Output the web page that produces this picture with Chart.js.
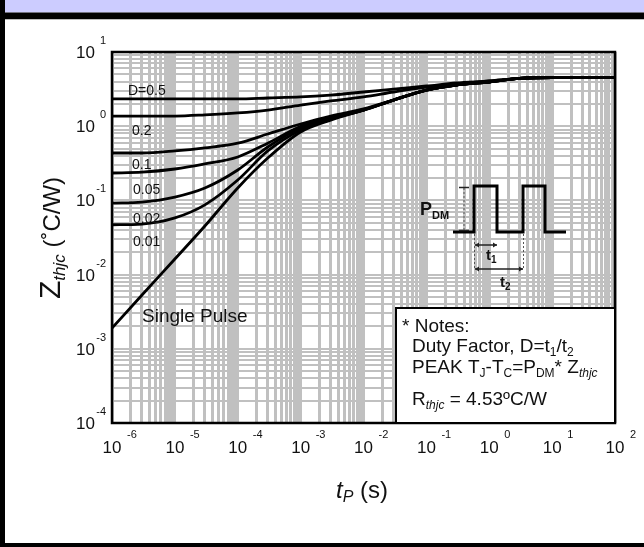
<!DOCTYPE html>
<html><head><meta charset="utf-8">
<script src="https://cdn.jsdelivr.net/npm/chart.js@4.4.0/dist/chart.umd.min.js"></script>
<style>html,body{margin:0;padding:0;background:#fff;overflow:hidden}canvas{display:block}</style>
</head><body>
<canvas id="c" width="644" height="547"></canvas>
<script>
// ---- data ----
const tP = [1e-6,3e-6,1e-5,3e-5,1e-4,3e-4,1e-3,3e-3,1e-2,3e-2,1e-1,3e-1,1,3,10,100];
const zD050 = [2.33,2.33,2.33,2.33,2.33,2.40,2.48,2.63,2.89,3.17,3.48,3.82,4.07,4.40,4.53,4.53];
const zD020 = [1.37,1.37,1.37,1.42,1.51,1.65,1.93,2.19,2.48,2.89,3.37,3.70,4.07,4.40,4.53,4.53];
const zD010 = [0.435,0.435,0.464,0.51,0.59,0.785,1.07,1.37,1.71,2.25,3.07,3.59,3.94,4.40,4.53,4.53];
const zD005 = [0.234,0.24,0.265,0.31,0.385,0.59,1.0,1.33,1.65,2.25,3.07,3.59,3.94,4.40,4.53,4.53];
const zD002 = [0.092,0.095,0.111,0.147,0.257,0.525,0.946,1.29,1.65,2.25,3.07,3.59,3.94,4.40,4.53,4.53];
const zD001 = [0.047,0.048,0.058,0.087,0.188,0.464,0.89,1.25,1.65,2.25,3.07,3.59,3.94,4.40,4.53,4.53];
const zSingle = [0.0019,0.0053,0.0162,0.0452,0.147,0.372,0.836,1.21,1.65,2.25,3.07,3.59,3.94,4.40,4.53,4.53];
const seriesNames = ['D=0.5','0.2','0.1','0.05','0.02','0.01','Single Pulse'];
const xExponents = [-6,-5,-4,-3,-2,-1,0,1,2];
const yExponents = [1,0,-1,-2,-3,-4];

// ---- helpers ----
const FF = "'Liberation Sans', Arial, Helvetica, sans-serif";
const INK = '#111';
function minorTicks(exps){
  const lo = Math.min(...exps), hi = Math.max(...exps), out = [];
  for (let e = lo; e < hi; e++) for (let m = 1; m <= 9; m++) out.push(m * Math.pow(10, e));
  out.push(Math.pow(10, hi));
  return out;
}
const xTickVals = minorTicks(xExponents);
const yTickVals = minorTicks(yExponents);

function font(size, style){ return (style||'') + ' ' + size + 'px ' + FF; }
function runs(ctx, x, y, parts, align){
  let total = 0;
  parts.forEach(p => { ctx.font = font(p[1], p[2]); p.w = ctx.measureText(p[0]).width; total += p.w; });
  let cx = align === 'center' ? x - total/2 : align === 'right' ? x - total : x;
  parts.forEach(p => { ctx.font = font(p[1], p[2]); ctx.fillText(p[0], cx, y + (p[3]||0)); cx += p.w; });
}

const mk = (arr) => tP.map((t,i) => ({x:t, y:arr[i]}));
const allSeries = [zD050, zD020, zD010, zD005, zD002, zD001, zSingle];

const decor = {
  id: 'decor',
  beforeDraw(chart){
    const ctx = chart.ctx, W = chart.width, H = chart.height;
    ctx.save();
    ctx.fillStyle = '#fff'; ctx.fillRect(0,0,W,H);
    ctx.fillStyle = '#ccccff'; ctx.fillRect(0,0,W,12.5);
    ctx.fillStyle = '#000'; ctx.fillRect(0,12.5,W,6.5);
    ctx.fillStyle = '#bbb'; ctx.fillRect(0,19,W,1);
    ctx.fillStyle = '#000'; ctx.fillRect(0,0,5,H);
    ctx.fillRect(0,H-4,W,4);
    ctx.restore();
  },
  afterDatasetsDraw(chart){
    const ctx = chart.ctx, ca = chart.chartArea;
    const xs = chart.scales.x, ys = chart.scales.y;
    ctx.save();
    // plot frame
    ctx.strokeStyle = '#000'; ctx.lineWidth = 2.5;
    ctx.strokeRect(ca.left, ca.top, ca.right - ca.left, ca.bottom - ca.top);

    ctx.fillStyle = INK; ctx.textBaseline = 'alphabetic';
    // x tick labels
    xExponents.forEach(e => {
      const px = xs.getPixelForValue(Math.pow(10,e));
      ctx.font = font(17); ctx.textAlign = 'center';
      ctx.fillText('10', px, 453);
      ctx.font = font(11); ctx.textAlign = 'left';
      ctx.fillText(String(e), px + 15, 438);
    });
    // y tick labels
    yExponents.forEach(e => {
      const py = ys.getPixelForValue(Math.pow(10,e));
      ctx.font = font(17); ctx.textAlign = 'right';
      ctx.fillText('10', 95, py + 6);
      ctx.font = font(11); ctx.textAlign = 'right';
      ctx.fillText(String(e), 106, py - 8);
    });
    ctx.textAlign = 'left';

    // series labels
    const lab = [[128,95],[132,135],[132,169],[133,194],[133,223],[133,246]];
    lab.forEach((p,i) => { ctx.font = font(14); ctx.fillText(seriesNames[i], p[0], p[1]); });
    ctx.font = font(19); ctx.fillText(seriesNames[6], 142, 322);

    // axis titles
    runs(ctx, 362, 498, [['t',24,'italic'],['P',16,'italic',4],[' (s)',24]], 'center');
    ctx.save();
    ctx.translate(60, 238); ctx.rotate(-Math.PI/2);
    runs(ctx, 0, 0, [['Z',30],['thjc',17,'italic',5],[' (\u02DAC/W)',24]], 'center');
    ctx.restore();

    // pulse diagram
    ctx.strokeStyle = '#000'; ctx.lineWidth = 3; ctx.lineJoin = 'miter';
    ctx.beginPath();
    ctx.moveTo(453,232); ctx.lineTo(474,232); ctx.lineTo(474,186); ctx.lineTo(497,186);
    ctx.lineTo(497,232); ctx.lineTo(523,232); ctx.lineTo(523,186); ctx.lineTo(545,186);
    ctx.lineTo(545,232); ctx.lineTo(566,232);
    ctx.stroke();
    ctx.lineWidth = 1; ctx.strokeStyle = '#555';
    ctx.setLineDash([2,2]);
    ctx.beginPath();
    ctx.moveTo(464,188); ctx.lineTo(464,231);
    ctx.moveTo(474.5,234); ctx.lineTo(474.5,270);
    ctx.moveTo(523.5,234); ctx.lineTo(523.5,270);
    ctx.stroke();
    ctx.setLineDash([]);
    ctx.strokeStyle = '#222'; ctx.lineWidth = 1.5;
    ctx.beginPath();
    ctx.moveTo(459,187.5); ctx.lineTo(469,187.5);
    ctx.moveTo(459,230.5); ctx.lineTo(469,230.5);
    ctx.moveTo(475,245); ctx.lineTo(497,245);
    ctx.moveTo(475,269); ctx.lineTo(523,269);
    ctx.stroke();
    ctx.fillStyle = '#222';
    const arrow = (x,y,dir) => { ctx.beginPath(); ctx.moveTo(x,y); ctx.lineTo(x-4*dir,y-2.5); ctx.lineTo(x-4*dir,y+2.5); ctx.closePath(); ctx.fill(); };
    arrow(475,245,-1); arrow(497,245,1); arrow(475,269,-1); arrow(523,269,1);
    ctx.fillStyle = INK;
    runs(ctx, 420, 215, [['P',18,'bold'],['DM',11,'bold',4]]);
    runs(ctx, 486, 260, [['t',15,'bold'],['1',10,'bold',3]]);
    runs(ctx, 500, 287, [['t',15,'bold'],['2',10,'bold',3]]);

    // notes box
    ctx.fillStyle = '#fff';
    ctx.fillRect(396, 308, ca.right - 396, ca.bottom - 308);
    ctx.strokeStyle = '#000'; ctx.lineWidth = 2;
    ctx.strokeRect(396, 308, ca.right - 396, ca.bottom - 308);
    ctx.fillStyle = INK;
    runs(ctx, 402, 332, [['* Notes:',19]]);
    runs(ctx, 412, 352, [['Duty Factor, D=t',19],['1',12,'',4],['/t',19],['2',12,'',4]]);
    runs(ctx, 412, 373, [['PEAK T',19],['J',12,'',4],['-T',19],['C',12,'',4],['=P',19],['DM',12,'',4],['* Z',19],['thjc',12,'italic',4]]);
    runs(ctx, 412, 405, [['R',19],['thjc',12,'italic',4],[' = 4.53\u00BAC/W',19]]);
    ctx.restore();
  }
};

new Chart(document.getElementById('c'), {
  type: 'line',
  data: {
    datasets: allSeries.map((arr,i) => ({
      label: seriesNames[i],
      data: mk(arr),
      borderColor: '#000',
      borderWidth: 2.8,
      pointRadius: 0,
      fill: false,
      cubicInterpolationMode: 'monotone'
    }))
  },
  options: {
    responsive: false,
    animation: false,
    devicePixelRatio: 1,
    layout: { padding: { left: 112, top: 52, right: 29, bottom: 124 } },
    plugins: { legend: { display: false }, tooltip: { enabled: false } },
    scales: {
      x: {
        type: 'logarithmic', min: 1e-6, max: 100,
        afterBuildTicks: s => { s.ticks = xTickVals.map(v => ({ value: v })); },
        ticks: { display: false },
        grid: { color: '#c0c0c0', lineWidth: 3, drawTicks: false },
        border: { display: false }
      },
      y: {
        type: 'logarithmic', min: 1e-4, max: 10,
        afterBuildTicks: s => { s.ticks = yTickVals.map(v => ({ value: v })); },
        ticks: { display: false },
        grid: { color: '#c0c0c0', lineWidth: 2, drawTicks: false },
        border: { display: false }
      }
    }
  },
  plugins: [decor]
});
</script>
</body></html>
